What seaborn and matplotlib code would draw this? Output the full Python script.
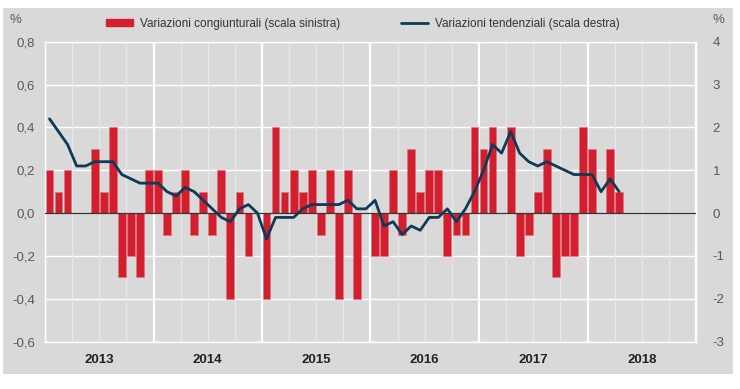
import numpy as np
import pandas as pd
import matplotlib
matplotlib.use("Agg")
import matplotlib.pyplot as plt
import matplotlib.patches as mpatches
import matplotlib.lines as mlines
import seaborn as sns

# =====================================
# Data (monthly, Jan 2013 - Dec 2018)
# =====================================

years = ["2013", "2014", "2015", "2016", "2017", "2018"]

cong_2013 = [0.2, 0.1, 0.2, 0.0, 0.0, 0.3, 0.1, 0.4, -0.3, -0.2, -0.3, 0.2]
cong_2014 = [0.2, -0.1, 0.1, 0.2, -0.1, 0.1, -0.1, 0.2, -0.4, 0.1, -0.2, 0.0]
cong_2015 = [-0.4, 0.4, 0.1, 0.2, 0.1, 0.2, -0.1, 0.2, -0.4, 0.2, -0.4, 0.0]
cong_2016 = [-0.2, -0.2, 0.2, -0.1, 0.3, 0.1, 0.2, 0.2, -0.2, -0.1, -0.1, 0.4]
cong_2017 = [0.3, 0.4, 0.0, 0.4, -0.2, -0.1, 0.1, 0.3, -0.3, -0.2, -0.2, 0.4]
cong_2018 = [0.3, 0.0, 0.3, 0.1]

tend_2013 = [2.2, 1.9, 1.6, 1.1, 1.1, 1.2, 1.2, 1.2, 0.9, 0.8, 0.7, 0.7]
tend_2014 = [0.7, 0.5, 0.4, 0.6, 0.5, 0.3, 0.1, -0.1, -0.2, 0.1, 0.2, 0.0]
tend_2015 = [-0.6, -0.1, -0.1, -0.1, 0.1, 0.2, 0.2, 0.2, 0.2, 0.3, 0.1, 0.1]
tend_2016 = [0.3, -0.3, -0.2, -0.5, -0.3, -0.4, -0.1, -0.1, 0.1, -0.2, 0.1, 0.5]
tend_2017 = [1.0, 1.6, 1.4, 1.9, 1.4, 1.2, 1.1, 1.2, 1.1, 1.0, 0.9, 0.9]
tend_2018 = [0.9, 0.5, 0.8, 0.5]

left_ticks = [-0.6, -0.4, -0.2, 0.0, 0.2, 0.4, 0.6, 0.8]
left_labels = ["-0,6", "-0,4", "-0,2", "0,0", "0,2", "0,4", "0,6", "0,8"]
right_ticks = [-3, -2, -1, 0, 1, 2, 3, 4]
right_labels = ["-3", "-2", "-1", "0", "1", "2", "3", "4"]

label_cong = "Variazioni congiunturali (scala sinistra)"
label_tend = "Variazioni tendenziali (scala destra)"

cong = cong_2013 + cong_2014 + cong_2015 + cong_2016 + cong_2017 + cong_2018
tend = tend_2013 + tend_2014 + tend_2015 + tend_2016 + tend_2017 + tend_2018

df = pd.DataFrame({"month": np.arange(len(cong)), "cong": cong, "tend": tend})
n_months = 12 * len(years)

# =====================================
# Style
# =====================================

sns.set_theme(style="white")
plt.rcParams["font.family"] = ["Liberation Sans", "DejaVu Sans"]

bg = "#d9d9d9"
red = "#d21f30"
navy = "#0f3a56"
tick_col = "#595959"

fig = plt.figure(figsize=(7.4, 3.89), dpi=100)
fig.patch.set_facecolor("white")
fig.patches.append(mpatches.Rectangle((3 / 740, 1 - 374 / 389), 730 / 740, 366 / 389,
                                      transform=fig.transFigure, facecolor=bg,
                                      edgecolor="none", zorder=-10))

ax = fig.add_axes([45 / 740, 1 - 341.7 / 389, 651 / 740, 300 / 389])
ax.set_facecolor(bg)
ax.set_axisbelow(True)

# =====================================
# Bars (left scale)
# =====================================

sns.barplot(data=df, x="month", y="cong", native_scale=True, color=red,
            saturation=1, width=0.86, errorbar=None, edgecolor="#e0737b",
            linewidth=0.4, ax=ax)

ax.set_xlim(-0.5, n_months - 0.5)
ax.set_ylim(-0.6, 0.8)
ax.set_yticks(left_ticks)
ax.set_yticklabels(left_labels)
ax.axhline(0, color="#333333", linewidth=0.9, zorder=5)

# grid
for v in left_ticks:
    ax.axhline(v, color="white", linewidth=1.0, zorder=0.5)
for q in range(0, n_months + 1, 3):
    if q % 12 == 0:
        ax.axvline(q - 0.5, color="white", linewidth=1.6, zorder=0.5)
    else:
        ax.axvline(q - 0.5, color="#e8e8e8", linewidth=0.9, zorder=0.5)

ax.set_xticks([12 * i + 5.5 for i in range(len(years))])
ax.set_xticklabels(years, fontweight="bold", color="#222222", fontsize=9.5)
ax.tick_params(axis="x", length=0, pad=9)
ax.tick_params(axis="y", length=0, pad=7, labelcolor=tick_col, labelsize=9.5)
ax.set_xlabel("")
ax.set_ylabel("")
for s in ax.spines.values():
    s.set_color("white")
    s.set_linewidth(1.0)

# =====================================
# Line (right scale)
# =====================================

ax2 = ax.twinx()
sns.lineplot(data=df, x="month", y="tend", color=navy, linewidth=2.0, ax=ax2)
ax2.set_ylim(-3, 4)
ax2.set_yticks(right_ticks)
ax2.set_yticklabels(right_labels)
ax2.tick_params(axis="y", length=0, pad=12, labelcolor=tick_col, labelsize=9.5)
ax2.set_ylabel("")
ax2.grid(False)
for s in ax2.spines.values():
    s.set_visible(False)

fig.text(15 / 740, 1 - 20 / 389, "%", color=tick_col, fontsize=9.5, ha="center", va="center")
fig.text(718 / 740, 1 - 20 / 389, "%", color=tick_col, fontsize=9.5, ha="center", va="center")

# =====================================
# Legend
# =====================================

h1 = mpatches.Patch(color=red, label=label_cong)
h2 = mlines.Line2D([], [], color=navy, linewidth=2.0, label=label_tend)
fig.legend(handles=[h1, h2], loc="center", bbox_to_anchor=(363 / 740, 1 - 24 / 389),
           ncol=2, frameon=False, fontsize=8.5, handlelength=2.3, handleheight=0.5,
           columnspacing=5.1, handletextpad=0.6, labelcolor="#333333")

fig.savefig("out.png", dpi=100, facecolor=fig.get_facecolor())
